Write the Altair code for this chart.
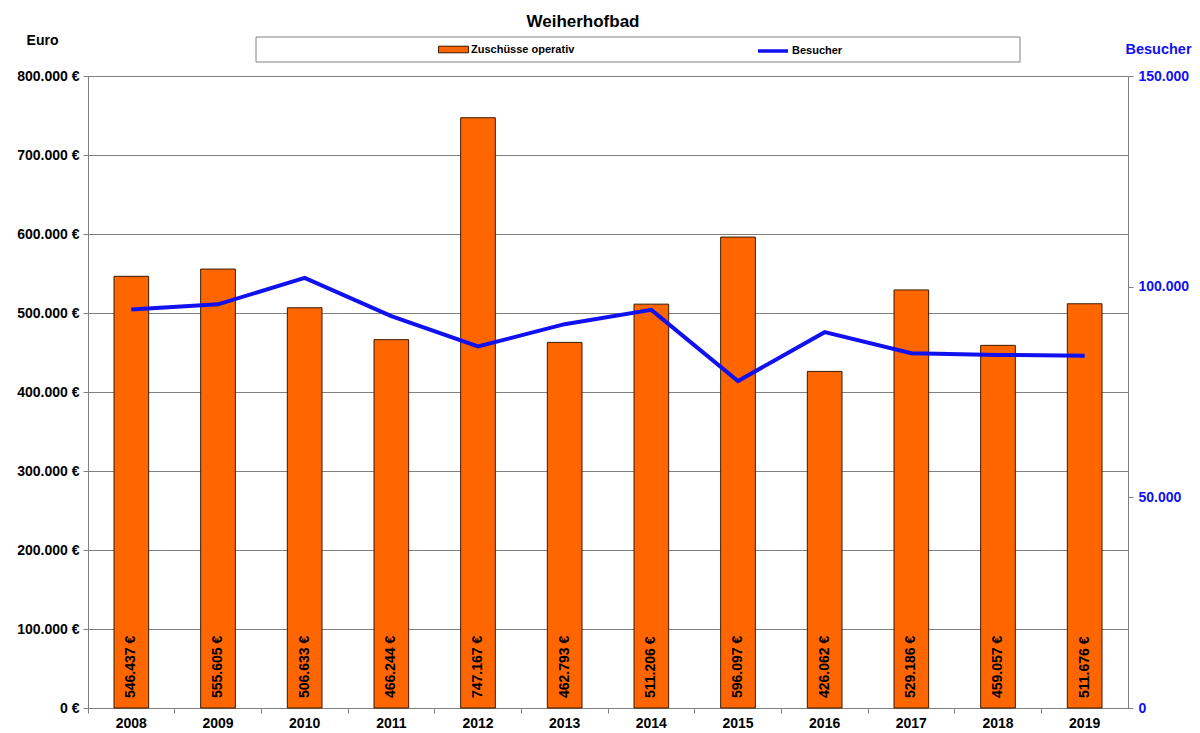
import altair as alt
import pandas as pd

years = ["2008", "2009", "2010", "2011", "2012", "2013", "2014", "2015", "2016", "2017", "2018", "2019"]
zuschuesse = [546437, 555605, 506633, 466244, 747167, 462793, 511206, 596097, 426062, 529186, 459057, 511676]
besucher = [94600, 95800, 102100, 93000, 85800, 91100, 94500, 77600, 89200, 84200, 83800, 83600]
left_ticks = [0, 100000, 200000, 300000, 400000, 500000, 600000, 700000, 800000]
right_ticks = [0, 50000, 100000, 150000]

bar_labels = [f"{v:,}".replace(",", ".") + " €" for v in zuschuesse]

df = pd.DataFrame({
    "Jahr": years,
    "Zuschuss": zuschuesse,
    "Besucher": besucher,
    "Label": bar_labels,
    "s1": "Zuschüsse operativ",
    "s2": "Besucher",
})

FONT = "Liberation Sans"
GRAY = "#808080"
BLUE = "#1010F0"
ORANGE = "#FF6600"

x_enc = alt.X(
    "Jahr:N", sort=years,
    scale=alt.Scale(paddingInner=0, paddingOuter=0),
    axis=alt.Axis(title=None, labelAngle=0, bandPosition=0, tickSize=5, tickColor=GRAY,
                  domainColor=GRAY, labelFont=FONT, labelFontSize=14, labelFontWeight="bold",
                  labelColor="black", labelPadding=3, grid=False),
)

bars = alt.Chart(df).mark_bar(width=alt.RelativeBandSize(0.4), stroke="#3a1a00", strokeWidth=1).encode(
    x=x_enc,
    y=alt.Y("Zuschuss:Q", scale=alt.Scale(domain=[0, 800000], nice=False),
            axis=alt.Axis(orient="left", title="Euro", values=left_ticks,
                          labelExpr="replace(format(datum.value, ','), regexp(',', 'g'), '.') + ' €'",
                          labelFont=FONT, labelFontSize=14, labelFontWeight="bold", labelColor="black",
                          labelPadding=4, tickSize=5, tickColor=GRAY, domainColor=GRAY,
                          grid=True, gridColor=GRAY, gridWidth=1,
                          titleAngle=0, titleX=-46, titleY=-36, titleAlign="center", titleBaseline="middle",
                          titleFont=FONT, titleFontSize=14, titleFontWeight="bold", titleColor="black")),
    fill=alt.Fill("s1:N", scale=alt.Scale(domain=["Zuschüsse operativ"], range=[ORANGE]),
                  legend=alt.Legend(title=None, orient="none", legendX=350, legendY=-42,
                                    symbolType="M-1,-0.22H1V0.22H-1Z", symbolSize=900,
                                    symbolStrokeColor="#3a1a00", symbolStrokeWidth=1,
                                    labelFont=FONT, labelFontSize=11, labelFontWeight="bold",
                                    labelColor="black", labelOffset=2, padding=0)),
)

texts = alt.Chart(df).mark_text(angle=270, align="left", baseline="middle", dx=10, font=FONT,
                                fontSize=14, fontWeight="bold", color="black").encode(
    x=alt.X("Jahr:N", sort=years),
    y=alt.datum(0),
    text="Label:N",
)

line = alt.Chart(df).mark_line(strokeWidth=4).encode(
    x=alt.X("Jahr:N", sort=years),
    y=alt.Y("Besucher:Q", scale=alt.Scale(domain=[0, 150000], nice=False),
            axis=alt.Axis(orient="right", title="Besucher", values=right_ticks,
                          labelExpr="replace(format(datum.value, ','), regexp(',', 'g'), '.')",
                          labelFont=FONT, labelFontSize=14, labelFontWeight="bold", labelColor=BLUE,
                          labelPadding=5, tickSize=5, tickColor=GRAY, domainColor=GRAY, grid=False,
                          titleAngle=0, titleX=30, titleY=-27, titleAlign="center", titleBaseline="middle",
                          titleFont=FONT, titleFontSize=14.5, titleFontWeight="bold", titleColor=BLUE)),
    stroke=alt.Stroke("s2:N", scale=alt.Scale(domain=["Besucher"], range=[BLUE]),
                      legend=alt.Legend(title=None, orient="none", legendX=668, legendY=-42,
                                        symbolType="stroke", symbolSize=900, symbolStrokeWidth=3.5,
                                        labelFont=FONT, labelFontSize=11, labelFontWeight="bold",
                                        labelColor="black", labelOffset=2, padding=0)),
)

frame = alt.Chart(alt.Data(values=[{"a": 1}])).mark_rect(fill="white", stroke=GRAY, strokeWidth=1).encode(
    x=alt.value(168), x2=alt.value(932), y=alt.value(-39), y2=alt.value(-14)
)

chart = alt.layer(frame, alt.layer(bars, texts), line).resolve_scale(y="independent").properties(
    width=1040, height=632,
    autosize=alt.AutoSizeParams(type="none"),
    padding={"left": 80, "top": 68, "right": 64, "bottom": 25},
    title=alt.TitleParams("Weiherhofbad", font=FONT, fontSize=17, fontWeight="bold", color="black",
                          anchor="middle", frame="group", dx=-25, dy=18, offset=12, baseline="middle"),
    background="white",
).configure_view(stroke=GRAY)

chart.save("out.html", embed_options={"renderer": "svg", "actions": False})
